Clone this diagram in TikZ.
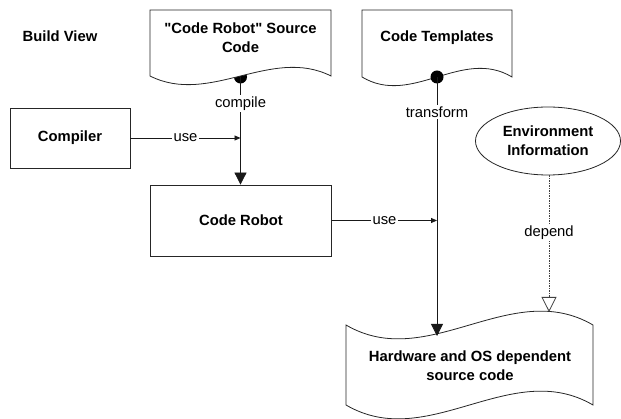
\documentclass[tikz,border=0pt]{standalone}
\usepackage{fontspec}
\setmainfont{Liberation Sans}
\usetikzlibrary{arrows.meta,shapes.geometric}

\begin{document}
\begin{tikzpicture}[x=1pt,y=-1pt,
  outline/.style={draw=black!85,line width=0.8pt},
  boxtext/.style={font=\bfseries\fontsize{14.8}{19}\selectfont,align=center},
  blockbox/.style={outline,fill=white,boxtext,inner sep=0pt},
  lbl/.style={fill=white,inner sep=1.5pt,font=\fontsize{14.8}{18}\selectfont},
  wire/.style={line width=0.8pt,draw=black!90},
  bigtip/.style={-{Triangle[length=12pt,width=12pt]}},
  smalltip/.style={-{Triangle[length=6pt,width=5pt]}},
  opentip/.style={-{Triangle[open,length=15pt,width=15pt,fill=white]}},
  ball/.style={fill=black,draw=none}
]
\useasboundingbox (0,0) rectangle (621,419);

% title
\node[boxtext] (title) at (60,36) {Build View};

% "Code Robot" source document (ball sits behind its wavy edge)
\coordinate (srcball) at (240.5,77);
\fill[ball] (srcball) circle (6.5pt);
\draw[outline,fill=white] (150,10) -- (331,10) -- (331,76)
  .. controls (271,46) and (210,106) .. (150,76) -- cycle;
\node[boxtext] (srcdoc) at (240.5,38) {\textquotedbl Code Robot\textquotedbl{} Source\\Code};

% code templates document
\draw[outline,fill=white] (362,10) -- (512,10) -- (512,77)
  .. controls (462,47) and (412,107) .. (362,77) -- cycle;
\node[boxtext] (tpldoc) at (437,38) {Code Templates};
\coordinate (tplball) at (437,77);
\fill[ball] (tplball) circle (6.5pt);

% generated source document
\draw[outline,fill=white] (346,325)
  .. controls (428,373) and (511,277) .. (593,325) -- (593,405)
  .. controls (511,357) and (428,453) .. (346,405) -- cycle;
\node[boxtext] (outdoc) at (470,366) {Hardware and OS dependent\\source code};
\coordinate (outtop) at (437,336);
\coordinate (outdep) at (549,312);

% blocks
\node[blockbox,minimum width=120pt,minimum height=60pt] (compiler) at (70,138) {Compiler};
\node[blockbox,minimum width=181pt,minimum height=71pt] (robot) at (241,220.5) {Code Robot};
\node[blockbox,ellipse,minimum width=145pt,minimum height=68pt] (env) at (548,141) {Environment\\Information};

% connectors
\coordinate (compilejoin) at (srcball |- compiler.east);
\coordinate (transjoin) at (tplball |- robot.east);

\draw[wire,bigtip] (srcball) -- (srcball |- robot.north)
  node[lbl,pos=0.25] (compilelbl) {compile};
\draw[wire,smalltip] (compiler.east) -- (compilejoin)
  node[lbl,midway] (uselbl1) {use};
\draw[wire,bigtip] (tplball) -- (outtop)
  node[lbl,pos=0.135] (translbl) {transform};
\draw[wire,smalltip] (robot.east) -- (transjoin)
  node[lbl,midway] (uselbl2) {use};
\draw[wire,draw=black!75,dash pattern=on 1.5pt off 1pt,opentip] (env.south -| outdep) -- (outdep)
  node[lbl,pos=0.42] (deplbl) {depend};
\end{tikzpicture}
\end{document}
